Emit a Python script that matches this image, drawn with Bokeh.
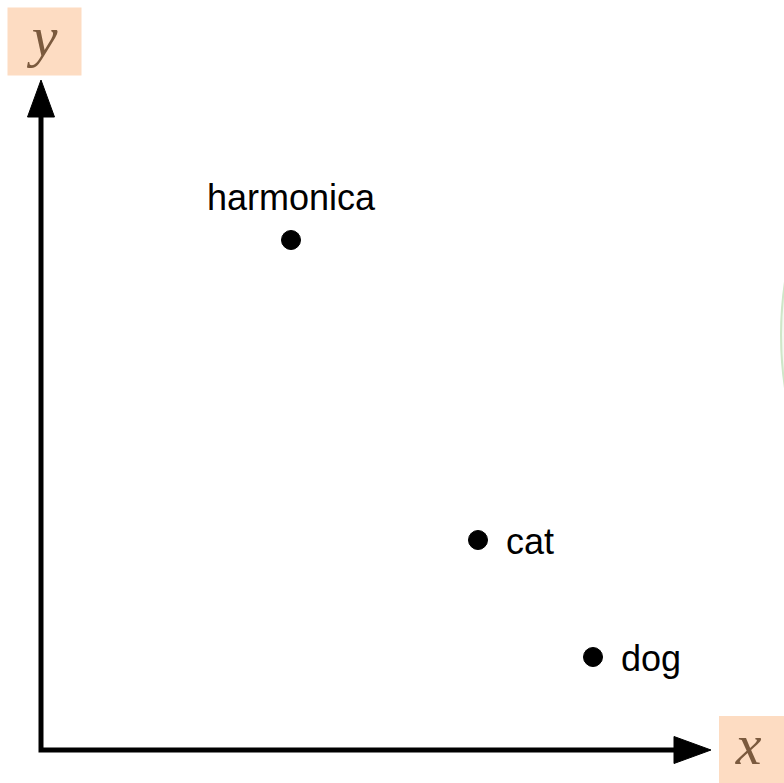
from bokeh.plotting import figure
from bokeh.models import Range1d, ColumnDataSource
from bokeh.core.properties import value
from bokeh.embed import file_html
from bokeh.resources import INLINE

# ---- data (units: origin at the axes' corner) ----
names = ["harmonica", "cat", "dog"]
xs = [2.50, 4.37, 5.52]
ys = [5.10, 2.10, 0.93]
label_pos = ["above", "right", "right"]

axis_labels = ["x", "y"]

# ---- styling / geometry constants ----
AXIS_END = 6.70      # arrow tip position on both axes
HEAD_LEN = 0.37
HEAD_HALF = 0.135
TEXT_CENTER = 7.075  # axis-label text centre along axis direction
BOX_GAP = 0.08       # gap between arrow tip and label box
BOX_HALF_ALONG = 0.37
BOX_HALF_ACROSS = 0.34
BOX_COLOR = "#fddcc2"
LABEL_COLOR = "#7b5a3e"

p = figure(width=784, height=783, output_backend="svg", toolbar_location=None,
           x_range=Range1d(-0.405, 7.435), y_range=Range1d(-0.335, 7.495),
           min_border=0, outline_line_color=None)
p.axis.visible = False
p.grid.visible = False
p.background_fill_color = "white"
p.border_fill_color = "white"

# faint green circle partially visible on the right edge
p.circle(x=[7.40 + 3.55], y=[4.15], radius=3.55, fill_color="#f3f9f1",
         line_color="#cfe6c8", line_width=2)

# axes shafts
shaft_end = AXIS_END - HEAD_LEN
p.line(x=[0, 0, shaft_end], y=[shaft_end, 0, 0], line_color="black",
       line_width=5, line_join="miter")
# arrow heads
p.patches(xs=[[shaft_end, AXIS_END, shaft_end], [-HEAD_HALF, 0, HEAD_HALF]],
          ys=[[-HEAD_HALF, 0, HEAD_HALF], [shaft_end, AXIS_END, shaft_end]],
          fill_color="black", line_color="black", line_width=1)

# axis label boxes: x box to the right of the x arrow, y box above the y arrow
bx = [AXIS_END + BOX_GAP + BOX_HALF_ALONG, 0.035]
by = [0.0, AXIS_END + 0.045 + BOX_HALF_ACROSS]
bw = [2 * BOX_HALF_ALONG, 2 * BOX_HALF_ALONG]
bh = [2 * BOX_HALF_ACROSS, 2 * BOX_HALF_ACROSS]
p.rect(x=bx, y=by, width=bw, height=bh, fill_color=BOX_COLOR, line_color=None)
tx = [TEXT_CENTER, 0.035]
ty = [0.0, TEXT_CENTER]
p.text(x=tx, y=ty, text=axis_labels, text_font=value("Liberation Serif"),
       text_font_style="italic", text_font_size="58px", text_color=LABEL_COLOR,
       text_align="center", text_baseline="middle", y_offset=-6)

# points
src = ColumnDataSource(dict(x=xs, y=ys, name=names))
p.scatter(x="x", y="y", source=src, size=19, fill_color="black", line_color="black")

above = [i for i, s in enumerate(label_pos) if s == "above"]
right = [i for i, s in enumerate(label_pos) if s == "right"]
p.text(x=[xs[i] for i in above], y=[ys[i] for i in above], text=[names[i] for i in above],
       text_font=value("Liberation Sans"), text_font_size="36px", text_color="black",
       text_align="center", text_baseline="alphabetic", y_offset=-43)
p.text(x=[xs[i] for i in right], y=[ys[i] for i in right], text=[names[i] for i in right],
       text_font=value("Liberation Sans"), text_font_size="36px", text_color="black",
       text_align="left", text_baseline="alphabetic", x_offset=28, y_offset=1)

open("out.html", "w").write(file_html(p, INLINE))
